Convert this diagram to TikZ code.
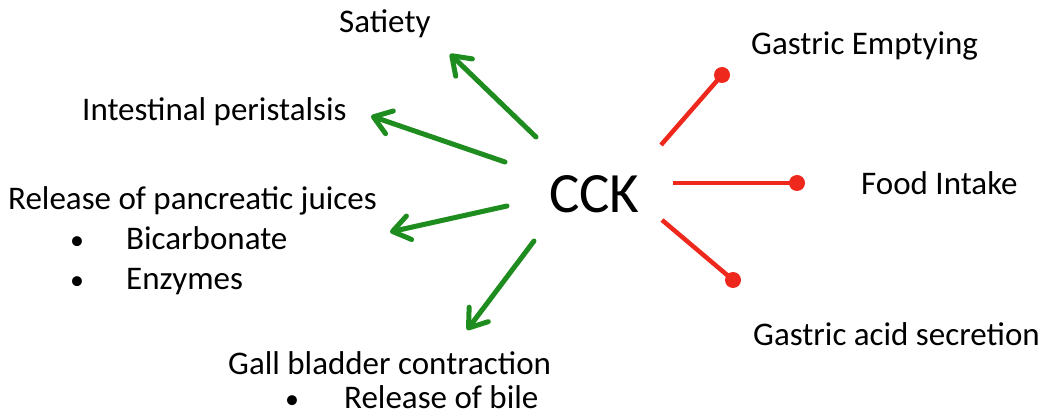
\documentclass[tikz,border=0pt]{standalone}
\usepackage{fontspec}
\setmainfont{Carlito}
\usetikzlibrary{arrows.meta}
\definecolor{actgreen}{RGB}{30,140,30}
\definecolor{inhred}{RGB}{238,40,28}
\tikzset{
  lbl/.style={anchor=base west, inner sep=0pt, font=\fontsize{33}{38}\selectfont},
  bul/.style={anchor=base, inner sep=0pt, font=\fontsize{28}{38}\selectfont},
  hub/.style={anchor=base west, inner sep=0pt, font=\fontsize{57}{64}\selectfont},
  promote/.style={draw=actgreen, line width=5pt, line cap=round,
    -{Straight Barb[length=17pt,width=24pt,line cap=round,line join=round]}},
  inhibit/.style={draw=inhred, line width=4.5pt},
  knob/.style={circle, fill=inhred, inner sep=0pt, minimum size=16pt},
}
\begin{document}
\begin{tikzpicture}[x=1pt,y=-1pt]
\useasboundingbox (0,0) rectangle (1052,419);
% central hormone
\node[hub] (cck) at (549,213) {CCK};
% stimulated responses
\node[lbl] (sat) at (339,33) {Satiety};
\node[lbl] (peri) at (82,121) {Intestinal peristalsis};
\node[lbl] (panc) at (8,210) {Release of pancreatic juices};
\node[bul] (b1) at (77,250) {•};
\node[lbl] (bic) at (126,250) {Bicarbonate};
\node[bul] (b2) at (77,290) {•};
\node[lbl] (enz) at (126,290) {Enzymes};
\node[lbl] (gall) at (228,375) {Gall bladder contraction};
\node[bul] (b3) at (292,409) {•};
\node[lbl] (bile) at (344,409) {Release of bile};
% inhibited responses
\node[lbl] (gastE) at (751,55) {Gastric Emptying};
\node[lbl] (food) at (861,195) {Food Intake};
\node[lbl] (acid) at (753,346) {Gastric acid secretion};
% arrow end points
\coordinate (s0) at (536,137); \coordinate (s1) at (450,54);
\coordinate (p0) at (505,162); \coordinate (p1) at (371,116);
\coordinate (j0) at (507,206); \coordinate (j1) at (390,232);
\coordinate (g0) at (534,241); \coordinate (g1) at (467,330);
\draw[promote] (s0) -- (s1);
\draw[promote] (p0) -- (p1);
\draw[promote] (j0) -- (j1);
\draw[promote] (g0) -- (g1);
% inhibition bars with round knobs
\coordinate (e0) at (661,145); \node[knob] (e1) at (722,75) {};
\coordinate (f0) at (673,183); \node[knob] (f1) at (797,183) {};
\coordinate (a0) at (662,220); \node[knob] (a1) at (733,280) {};
\draw[inhibit] (e0) -- (e1.center);
\draw[inhibit] (f0) -- (f1.center);
\draw[inhibit] (a0) -- (a1.center);
\end{tikzpicture}
\end{document}
